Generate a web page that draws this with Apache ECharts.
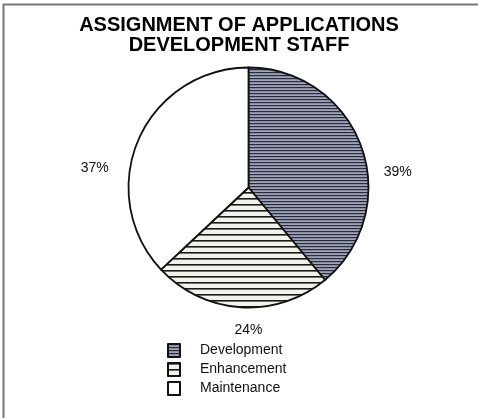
<!DOCTYPE html>
<html>
<head>
<meta charset="utf-8">
<style>
  html, body { margin: 0; padding: 0; background: #fff; }
  #chart { width: 478px; height: 418px; }
</style>
<script src="https://cdn.jsdelivr.net/npm/echarts@6/dist/echarts.min.js"></script>
</head>
<body>
<div id="chart"></div>
<script>
// Staff assignment shares (percent)
const categories = ['Development', 'Enhancement', 'Maintenance'];
const shares = [39, 24, 37];
const titleLines = ['ASSIGNMENT OF APPLICATIONS', 'DEVELOPMENT STAFF'];

// Hatched fills drawn on small tiles
function hatch(bg, line, step, width) {
  const c = document.createElement('canvas');
  c.width = 8; c.height = step;
  const g = c.getContext('2d');
  g.fillStyle = bg; g.fillRect(0, 0, 8, step);
  g.fillStyle = line; g.fillRect(0, 0, 8, width);
  return { image: c, repeat: 'repeat' };
}
const fills = [
  hatch('#9ea3bb', '#2a2d38', 3, 1.2),
  hatch('#f3f2ea', '#1a1a1a', 6, 1.6),
  '#ffffff'
];

const chart = echarts.init(document.getElementById('chart'), null, { renderer: 'canvas' });

const cx = 248.5, cy = 187.5, R = 120;
// Where each percentage label sits around the pie (angle clockwise from top, distance)
const labelSpots = [[84, 150], [180, 143], [277, 155]];

chart.setOption({
  animation: false,
  backgroundColor: '#ffffff',
  title: {
    text: titleLines.join('\n'),
    left: 'center',
    top: 10,
    textStyle: {
      fontFamily: 'Liberation Sans, Arial, sans-serif',
      fontWeight: 'bold',
      fontSize: 20,
      lineHeight: 20,
      color: '#000'
    }
  },
  legend: {
    orient: 'vertical',
    left: 162,
    top: 338,
    itemWidth: 12,
    itemHeight: 13,
    itemGap: 4,
    icon: 'rect',
    selectedMode: false,
    textStyle: {
      fontFamily: 'Liberation Sans, Arial, sans-serif',
      fontSize: 14,
      color: '#111',
      padding: [0, 0, 0, 15]
    },
    data: categories
  },
  graphic: [
    { type: 'line', shape: { x1: 3, y1: 4.5, x2: 478, y2: 4.5 }, style: { stroke: '#777', lineWidth: 2 } },
    { type: 'line', shape: { x1: 3.5, y1: 4, x2: 3.5, y2: 418 }, style: { stroke: '#777', lineWidth: 2 } }
  ],
  series: [{
    type: 'pie',
    center: [cx, cy],
    radius: [0, R],
    startAngle: 90,
    clockwise: true,
    itemStyle: { borderColor: '#111', borderWidth: 1.8 },
    emphasis: { disabled: true },
    label: {
      show: true,
      position: 'outside',
      formatter: '{c}%',
      fontFamily: 'Liberation Sans, Arial, sans-serif',
      fontSize: 14,
      color: '#111'
    },
    labelLine: { show: false },
    labelLayout: function (p) {
      const s = labelSpots[p.dataIndex];
      const a = s[0] * Math.PI / 180;
      return {
        x: cx + s[1] * Math.sin(a),
        y: cy - s[1] * Math.cos(a),
        align: 'center',
        verticalAlign: 'middle'
      };
    },
    data: categories.map((name, i) => ({
      name: name,
      value: shares[i],
      itemStyle: { color: fills[i] }
    }))
  }]
});
</script>
</body>
</html>
